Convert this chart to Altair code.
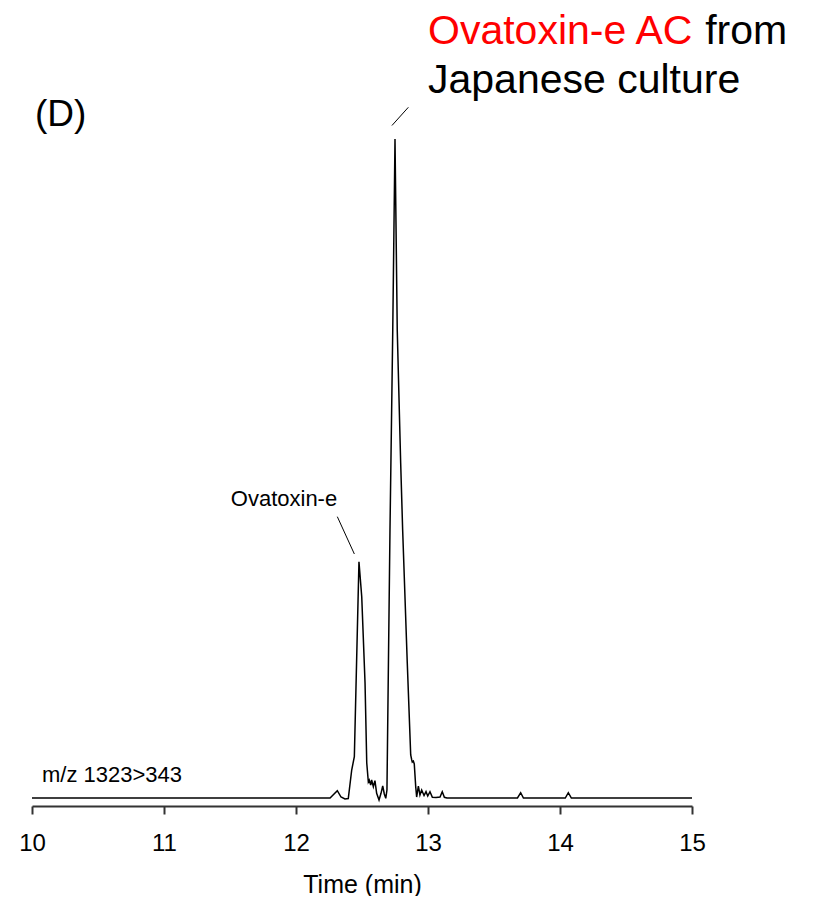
import altair as alt
import pandas as pd

# Chromatogram trace: retention time (min) and relative intensity (main peak = 100)
time_min = [10.000, 12.258, 12.313, 12.341, 12.371, 12.396, 12.422, 12.442, 12.477,
            12.498, 12.523, 12.536, 12.548, 12.555, 12.566, 12.573, 12.586, 12.598,
            12.611, 12.629, 12.644, 12.657, 12.669, 12.680, 12.689, 12.712, 12.733,
            12.750, 12.767, 12.793, 12.808, 12.843, 12.869, 12.877, 12.881, 12.889,
            12.896, 12.907, 12.914, 12.927, 12.939, 12.952, 12.970, 12.985, 12.998,
            13.015, 13.033, 13.061, 13.091, 13.108, 13.124, 13.144, 13.678, 13.702,
            13.723, 14.040, 14.063, 14.086, 15.000]
intensity = [0.00, 0.00, 1.11, 0.15, -0.15, -0.08, 4.25, 6.27, 35.86,
             30.55, 17.45, 5.31, 2.43, 2.73, 1.97, 2.73, 1.71, 2.63,
             0.71, -0.30, 0.71, 1.82, 0.61, -0.05, 1.21, 40.67, 71.02,
             100.00, 71.02, 50.83, 40.67, 20.49, 6.53, 5.77, 5.46, 5.61,
             5.16, 1.71, 0.15, 1.82, 0.46, 1.21, 0.38, 0.96, 0.30,
             0.96, 0.11, 0.08, 0.15, 0.96, 0.11, 0.00, 0.00, 0.80,
             0.00, 0.00, 0.80, 0.00, 0.00]

tick_values = [10, 11, 12, 13, 14, 15]

# Annotation leader lines (start/end in data coordinates)
lead_t1 = [12.727, 12.313]
lead_t2 = [12.851, 12.442]
lead_v1 = [102.05, 42.69]
lead_v2 = [104.81, 37.03]

# Annotation texts
small_labels = ["Ovatoxin-e", "m/z 1323>343"]
small_t = [11.909, 10.076]
small_v = [44.31, 2.43]
small_align = ["center", "left"]

title_labels = ["Ovatoxin-e AC", "from", "Japanese culture"]
title_t = [13.0, 15.10, 13.0]
title_v = [114.35, 114.35, 107.0]
title_col = ["red", "black", "black"]

font = "Liberation Sans"
y_dom = [-1.214, 119.88]
x_dom = [10, 15]

trace = pd.DataFrame({"t": time_min, "v": intensity})

xs = alt.Scale(domain=x_dom, nice=False, zero=False)
ys = alt.Scale(domain=y_dom, nice=False, zero=False)

line = alt.Chart(trace).mark_line(color="black", strokeWidth=1.5).encode(
    x=alt.X("t:Q", scale=xs,
            axis=alt.Axis(values=tick_values, title="Time (min)", format="d",
                          labelFont=font, labelFontSize=24, labelColor="black",
                          labelFlush=False, labelPadding=17, tickSize=8,
                          tickWidth=2, tickColor="#333",
                          domainWidth=2, domainColor="#333", grid=False,
                          titleFont=font, titleFontSize=25, titleFontWeight="normal",
                          titleColor="black", titlePadding=17)),
    y=alt.Y("v:Q", scale=ys, axis=None),
)

leads = alt.Chart(pd.DataFrame({"t1": lead_t1, "t2": lead_t2,
                                "v1": lead_v1, "v2": lead_v2})).mark_rule(
    color="black", strokeWidth=1).encode(
    x=alt.X("t1:Q", scale=xs), x2="t2:Q",
    y=alt.Y("v1:Q", scale=ys), y2="v2:Q")

small_df = pd.DataFrame({"label": small_labels, "t": small_t, "v": small_v,
                         "align": small_align})
small_c = alt.Chart(small_df[small_df["align"] == "center"]).mark_text(
    font=font, fontSize=22, align="center", baseline="alphabetic", color="black").encode(
    x=alt.X("t:Q", scale=xs), y=alt.Y("v:Q", scale=ys), text="label:N")
small_l = alt.Chart(small_df[small_df["align"] == "left"]).mark_text(
    font=font, fontSize=22, align="left", baseline="alphabetic", color="black").encode(
    x=alt.X("t:Q", scale=xs), y=alt.Y("v:Q", scale=ys), text="label:N")

panel_df = pd.DataFrame({"label": ["(D)"], "t": [10.023], "v": [101.97]})
panel = alt.Chart(panel_df).mark_text(
    font=font, fontSize=37, align="left", baseline="alphabetic", color="black").encode(
    x=alt.X("t:Q", scale=xs), y=alt.Y("v:Q", scale=ys), text="label:N")

title_df = pd.DataFrame({"label": title_labels, "t": title_t, "v": title_v,
                         "col": title_col})
title_txt = alt.Chart(title_df).mark_text(
    font=font, fontSize=41, align="left", baseline="alphabetic").encode(
    x=alt.X("t:Q", scale=xs), y=alt.Y("v:Q", scale=ys), text="label:N",
    color=alt.Color("col:N", scale=None))

chart = alt.layer(line, leads, small_c, small_l, panel, title_txt).properties(
    width=660, height=798, autosize="none",
    padding={"left": 24, "top": 0, "right": 110, "bottom": 90},
).configure_view(stroke=None)

chart.save("out.html", embed_options={"renderer": "svg", "actions": False})
